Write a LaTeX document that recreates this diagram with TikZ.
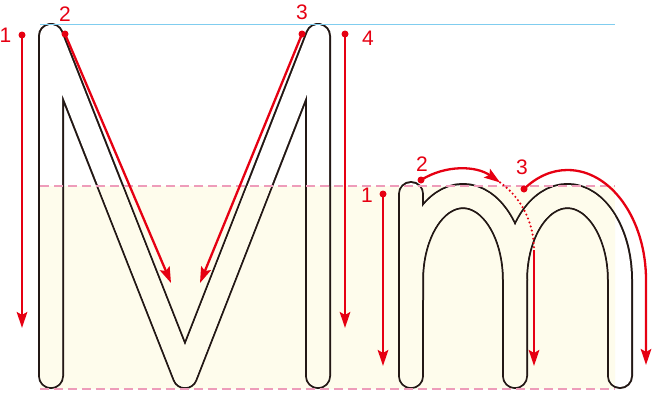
\documentclass[tikz,border=0pt]{standalone}
\usepackage{fontspec}
\setmainfont{Liberation Sans}
\usetikzlibrary{arrows.meta}
\definecolor{penred}{HTML}{E60012}
\definecolor{inkline}{HTML}{231815}
\definecolor{paper}{HTML}{FEFCEC}
\definecolor{guidepink}{HTML}{EE9CBA}
\definecolor{guideblue}{HTML}{80CDEF}

% centre lines of the letters M and m
\newcommand{\Mmskeleton}[1]{%
  \draw[#1] (51,376) -- (51,36) -- (185,376) -- (318,36) -- (318,376);
  \draw[#1] (411,376) -- (411,194);
  \draw[#1] (411,300) -- (411,280) .. controls (411,233.6) and (434.3,196) .. (463,196)
    .. controls (491.7,196) and (515,233.6) .. (515,280) -- (515,376);
  \draw[#1] (515,280) .. controls (515,233.6) and (538.5,196) .. (567.5,196)
    .. controls (596.5,196) and (620,233.6) .. (620,280) -- (620,376);
}

\begin{document}
\begin{tikzpicture}[x=1pt,y=-1pt,
  glyphedge/.style={draw=inkline,line width=26pt,line cap=round,line join=round},
  glyphhollow/.style={draw=white,line width=22pt,line cap=round,line join=round},
  trace/.style={penred,line width=2.3pt,-{Stealth[length=16pt,width=10.5pt,inset=3pt]}},
  trail/.style={penred,line width=2.4pt,line cap=round,dash pattern=on 0pt off 4.2pt},
  startdot/.style={circle,fill=penred,inner sep=0pt,minimum size=7pt},
  num/.style={penred,font=\fontsize{21}{21}\selectfont,inner sep=0pt}]
\useasboundingbox (0,0) rectangle (652,399);
\fill[paper] (40,186) rectangle (615,389);

\Mmskeleton{glyphedge}
\Mmskeleton{glyphhollow}
\begin{scope}
  \clip (40,186) rectangle (615,389);
  \Mmskeleton{glyphhollow,draw=paper}
\end{scope}

% writing lines
\draw[guideblue,line width=1pt] (40,24) -- (615,24);
\foreach \y in {186,389}
  \draw[guidepink,line width=1.2pt,dash pattern=on 9pt off 5pt] (40,\y) -- (615,\y);

% stroke order
\foreach \i/\sx/\sy/\ex/\ey in {1/22/35/22/328,2/65/34/171/283,3/302/34/200/283,4/345/34/345/328,5/383/194/383/366}{
  \node[startdot] (s\i) at (\sx,\sy) {};
  \coordinate (e\i) at (\ex,\ey);
  \draw[trace] (s\i.center) -- (e\i);
}
\node[startdot] (s6) at (421,180) {};
\coordinate (e6) at (500.1,182.5);
\coordinate (bend6) at (534,250);
\coordinate (e7) at (534,366);
\draw[trace] (s6.center) .. controls (445.9,164.5) and (476.4,165.7) .. (e6);
\draw[trail] (e6) .. controls (521.3,197.5) and (534,222.9) .. (bend6);
\draw[trace] (bend6) -- (e7);

\node[startdot] (s8) at (524,189) {};
\coordinate (e8) at (646,365);
\draw[trace] (s8.center) .. controls (537,176.5) and (551.9,170) .. (567.5,170)
  .. controls (610.9,170) and (646,219.2) .. (646,280) -- (e8);

\foreach \i/\x/\y/\lab in {1/5.5/35/1,2/65/14/2,3/302/12/3,4/368/38/4,5/367/195/1,6/422/164/2,7/522/167/3}
  \node[num] (n\i) at (\x,\y) {\lab};
\end{tikzpicture}
\end{document}
